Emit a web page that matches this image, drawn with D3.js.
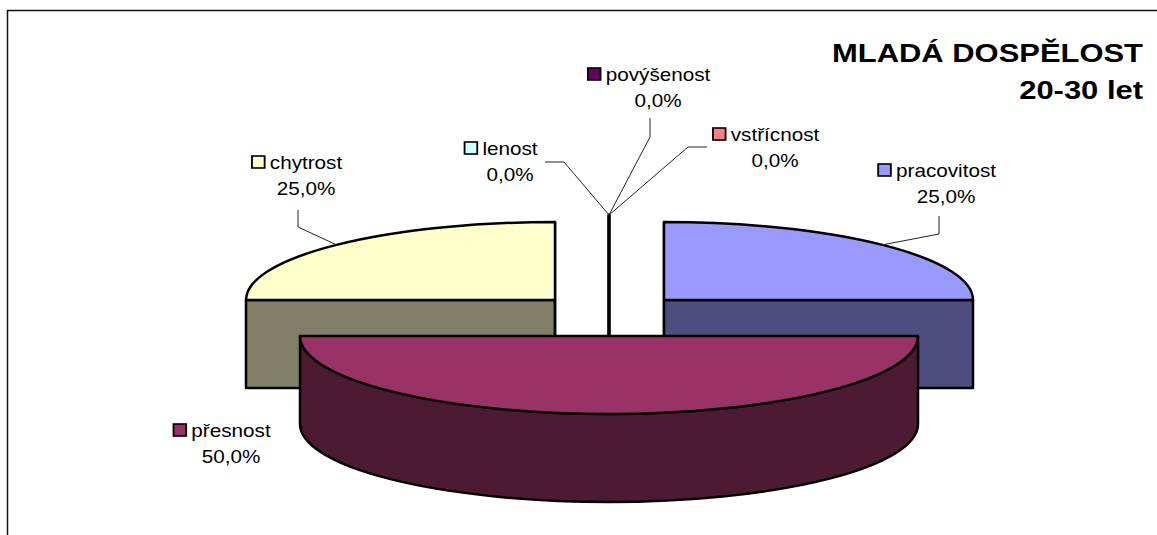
<!DOCTYPE html>
<html>
<head>
<meta charset="utf-8">
<script src="https://cdn.jsdelivr.net/npm/d3@7/dist/d3.min.js"></script>
<style>
  html, body { margin: 0; padding: 0; background: #fff; }
  svg { display: block; }
  text { font-family: "Liberation Sans", Arial, sans-serif; fill: #000; }
</style>
</head>
<body>
<svg id="chart" width="1157" height="535"></svg>
<script>
// Data
const categories = ["pracovitost", "přesnost", "chytrost", "lenost", "povýšenost", "vstřícnost"];
const values = [1, 2, 1, 0, 0, 0];
const colors = ["#9999FF", "#993366", "#FFFFCC", "#CCFFFF", "#660066", "#FF8080"];
const titleLines = ["MLADÁ DOSPĚLOST", "20-30 let"];

// Layout
const W = 1157, H = 535;
const base = { cx: 609, cy: 298, rx: 309, ry: 78, depth: 88 };
const explode = [[55, 2], [0, 38], [-54, 2], [0, -5], [0, -5], [0, -5]];
const labelPos = [
  { x: 946, y: 177, leader: [[939, 216], [939, 234]] },
  { x: 231, y: 437, leader: null },
  { x: 306, y: 169, leader: [[298, 210], [298, 227]] },
  { x: 510, y: 155, leader: [[545, 162], [564, 162]] },
  { x: 658, y: 81, leader: [[650, 118], [650, 137]] },
  { x: 775, y: 141, leader: [[707, 147], [688, 147]] }
];
const textStretch = 1.15;

const svg = d3.select("#chart");

// Outer frame
svg.append("path")
  .attr("d", `M7.5,${H + 5} L7.5,10.5 L${W + 5},10.5`)
  .attr("fill", "none").attr("stroke", "#111").attr("stroke-width", 1.5);

const pct = d3.format(".1f");
const total = d3.sum(values);

const pie = d3.pie().sort(null).value(d => d)
  .startAngle(0).endAngle(2 * Math.PI);
const arcs = pie(values).map((a, i) => {
  const cx = base.cx + explode[i][0];
  const cy = base.cy + explode[i][1];
  return { ...a, i, cx, cy, mid: (a.startAngle + a.endAngle) / 2 };
});

// Projection of a rim point at angle a (clockwise from 12 o'clock), lowered by h
function P(s, a, h) {
  return [s.cx + base.rx * Math.sin(a), s.cy - base.ry * Math.cos(a) + h];
}
function shade(c) {
  const col = d3.rgb(c);
  return d3.rgb(col.r / 2, col.g / 2, col.b / 2).toString();
}

// Paint slices back to front
const order = arcs.slice().sort((a, b) =>
  (a.cy - base.ry * Math.cos(a.mid)) - (b.cy - base.ry * Math.cos(b.mid)));

const gPie = svg.append("g");
order.forEach(s => {
  const g = gPie.append("g");
  const top = colors[s.i], side = shade(colors[s.i]);
  const d = base.depth;
  const sw = 2.5;

  // radial walls
  const walls = [];
  if (Math.sin(s.startAngle) <= 1e-9) walls.push(s.startAngle);
  if (Math.sin(s.endAngle) >= -1e-9) walls.push(s.endAngle);
  walls.forEach(a => {
    const p0 = P(s, a, 0), p1 = P(s, a, d);
    g.append("path")
      .attr("d", `M${s.cx},${s.cy} L${p0} L${p1} L${s.cx},${s.cy + d} Z`)
      .attr("fill", side).attr("stroke", "#000").attr("stroke-width", sw)
      .attr("stroke-linejoin", "round");
  });

  // outer curved wall, front half only
  const f0 = Math.max(s.startAngle, Math.PI / 2);
  const f1 = Math.min(s.endAngle, 3 * Math.PI / 2);
  if (f1 > f0) {
    const a0 = P(s, f0, 0), a1 = P(s, f1, 0), b1 = P(s, f1, d), b0 = P(s, f0, d);
    g.append("path")
      .attr("d", `M${a0} A${base.rx},${base.ry} 0 0 1 ${a1} L${b1} A${base.rx},${base.ry} 0 0 0 ${b0} Z`)
      .attr("fill", side).attr("stroke", "#000").attr("stroke-width", sw)
      .attr("stroke-linejoin", "round");
  }

  // top face
  if (s.endAngle - s.startAngle > 1e-9) {
    const p0 = P(s, s.startAngle, 0), p1 = P(s, s.endAngle, 0);
    const large = (s.endAngle - s.startAngle) > Math.PI ? 1 : 0;
    g.append("path")
      .attr("d", `M${s.cx},${s.cy} L${p0} A${base.rx},${base.ry} 0 ${large} 1 ${p1} Z`)
      .attr("fill", top).attr("stroke", "#000").attr("stroke-width", sw)
      .attr("stroke-linejoin", "round");
  }
});

// Leader lines
const gLead = svg.append("g");
arcs.forEach(s => {
  const L = labelPos[s.i].leader;
  if (!L) return;
  const end = P(s, s.mid, 0);
  gLead.append("path")
    .attr("d", d3.line()([...L, end]))
    .attr("fill", "none").attr("stroke", "#222").attr("stroke-width", 1);
});

// Data labels
const gLab = svg.append("g");
arcs.forEach(s => {
  const lp = labelPos[s.i];
  const g = gLab.append("g")
    .attr("transform", `translate(${lp.x},${lp.y}) scale(${textStretch},1)`);
  const t = g.append("text")
    .attr("text-anchor", "middle")
    .style("font-size", "18px")
    .text(categories[s.i]);
  const w = t.node().getComputedTextLength();
  g.append("rect")
    .attr("x", -w / 2 - 15.5).attr("y", -13)
    .attr("width", 11).attr("height", 12)
    .attr("fill", colors[s.i]).attr("stroke", "#000").attr("stroke-width", 1.6);
  g.append("text")
    .attr("text-anchor", "middle").attr("y", 26.5)
    .style("font-size", "18px")
    .text(pct(s.value / total * 100).replace(".", ",") + "%");
});

// Title
const gT = svg.append("g");
titleLines.forEach((line, k) => {
  gT.append("text")
    .attr("transform", `translate(1143,${62 + k * 37}) scale(1.19,1)`)
    .attr("text-anchor", "end")
    .style("font-size", "26px").style("font-weight", "bold")
    .text(line);
});
</script>
</body>
</html>
